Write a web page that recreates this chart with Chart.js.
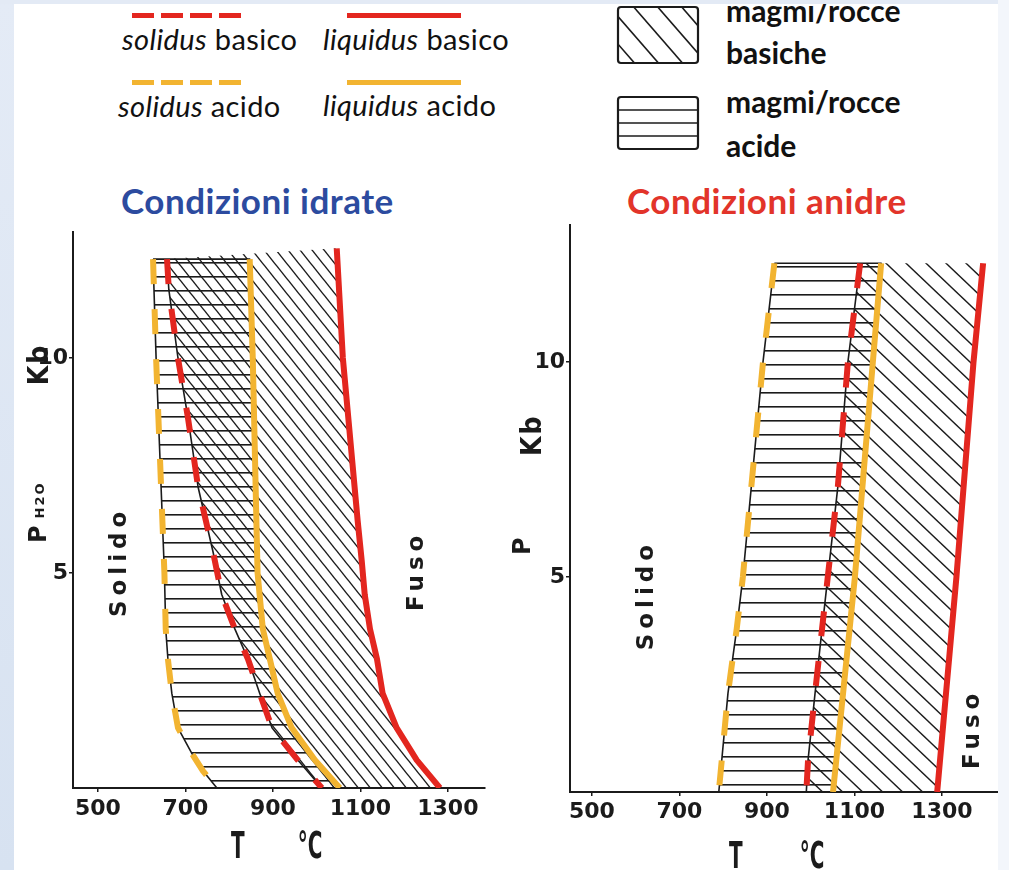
<!DOCTYPE html>
<html>
<head>
<meta charset="utf-8">
<title>Solidus e liquidus - condizioni idrate e anidre</title>
<script src="https://cdn.jsdelivr.net/npm/chart.js@4.4.1/dist/chart.umd.min.js"></script>
<style>
  html, body { margin: 0; width: 1009px; height: 870px; overflow: hidden; }
  body { position: relative; background: #fff; font-family: Lato, 'Open Sans', sans-serif; color: #111; }
  .band { position: absolute; z-index: 5; }
  .abs { position: absolute; white-space: nowrap; line-height: 1; }
  .key { font-size: 29px; letter-spacing: 0.4px; }
  .kind { font-size: 30px; font-weight: 700; }
  .cond { font-size: 35px; font-weight: 700; letter-spacing: 0.5px; }
  .swatch { position: absolute; height: 5px; }
  canvas { position: absolute; }
</style>
</head>
<body>
  <div class="band" style="left:0;top:0;width:14px;height:870px;background:linear-gradient(#e4ebf6,#d7e2f1);"></div>
  <div class="band" style="left:0;top:0;width:1009px;height:4px;background:#e3eaf5;"></div>
  <div class="band" style="left:998px;top:0;width:11px;height:870px;background:#f3f6fb;"></div>

  <!-- line key -->
  <div class="swatch" style="left:132px;top:13px;width:110px;background:repeating-linear-gradient(90deg,#e3261f 0 22px,transparent 22px 29px);"></div>
  <div class="swatch" style="left:347px;top:13px;width:114px;background:#e3261f;"></div>
  <div class="swatch" style="left:132px;top:80px;width:110px;background:repeating-linear-gradient(90deg,#f2b431 0 22px,transparent 22px 29px);"></div>
  <div class="swatch" style="left:347px;top:80px;width:114px;background:#f2b431;"></div>
  <div class="abs key" style="left:122px;top:24px;"><i>solidus</i> basico</div>
  <div class="abs key" style="left:323px;top:24px;"><i>liquidus</i> basico</div>
  <div class="abs key" style="left:118px;top:91px;"><i>solidus</i> acido</div>
  <div class="abs key" style="left:323px;top:90px;"><i>liquidus</i> acido</div>

  <!-- hatch key -->
  <canvas id="k1" width="88" height="62" style="left:616px;top:5px;"></canvas>
  <canvas id="k2" width="88" height="58" style="left:616px;top:95px;"></canvas>
  <div class="abs kind" style="left:726px;top:-5px;">magmi/rocce</div>
  <div class="abs kind" style="left:726px;top:37px;">basiche</div>
  <div class="abs kind" style="left:726px;top:86px;">magmi/rocce</div>
  <div class="abs kind" style="left:726px;top:130px;">acide</div>

  <div class="abs cond" style="left:121px;top:183px;color:#2c4b9f;">Condizioni idrate</div>
  <div class="abs cond" style="left:627px;top:183px;color:#e2342a;">Condizioni anidre</div>

  <canvas id="c1" width="500" height="650" style="left:0;top:220px;"></canvas>
  <canvas id="c2" width="519" height="660" style="left:490px;top:210px;"></canvas>

<script>
const RED = '#e3261f';
const YEL = '#f2b431';
const INK = '#1b1b1b';

// tick values
const T_TICKS = [500, 700, 900, 1100, 1300];
const P_TICKS = [5, 10];

// Condizioni idrate (P in Kb, T in °C)
const hydSolAcP = [12.3, 10, 5, 3.7, 3, 2.2, 1.4, 0.8, 0.4, 0];
const hydSolAcT = [626, 633, 652, 655, 660, 669, 683, 715, 740, 772];
const hydLiqAcP = [12.3, 10, 5, 3.7, 3, 2.2, 1.4, 0.65, 0];
const hydLiqAcT = [847, 854, 865, 877, 893, 911, 943, 996, 1053];
const hydSolBaP = [12.3, 11.6, 10, 8.6, 7, 5.5, 4.5, 3.7, 3, 2.2, 1.4, 0.65, 0];
const hydSolBaT = [658, 662, 683, 706, 729, 763, 783, 813, 843, 870, 898, 957, 1012];
const hydLiqBaP = [12.55, 10, 6.2, 5.3, 4.5, 3.7, 3, 2.2, 1.4, 0.65, 0];
const hydLiqBaT = [1046, 1060, 1094, 1103, 1110, 1122, 1138, 1151, 1183, 1229, 1282];

// Condizioni anidre
const drySolAcP = [12.3, 10, 5, 3.8, 2.3, 0];
const drySolAcT = [917, 891, 845, 831, 811, 790];
const dryLiqAcP = [12.3, 10, 5, 0];
const dryLiqAcT = [1161, 1142, 1101, 1051];
const drySolBaP = [12.3, 10, 7.1, 5, 3.8, 2.3, 0.75, 0];
const drySolBaT = [1113, 1085, 1062, 1039, 1026, 1010, 994, 990];
const dryLiqBaP = [12.3, 10, 5, 0];
const dryLiqBaT = [1394, 1372, 1333, 1289];

function pts(T, P) {
  return T.map((t, i) => ({x: t, y: P[i]}));
}

// closed outline: first curve top->bottom, second curve bottom->top
function band(tA, pA, tB, pB) {
  const out = pts(tA, pA).concat(pts(tB, pB).reverse());
  out.push({...out[0]});
  return out;
}

function diagPattern(ctx, w, h, lw) {
  const c = document.createElement('canvas');
  c.width = w; c.height = h;
  const g = c.getContext('2d');
  g.strokeStyle = INK;
  g.lineWidth = lw;
  for (let k = -1; k <= 1; k++) {
    g.beginPath();
    g.moveTo(k * w - w, -h);
    g.lineTo(k * w + 2 * w, 2 * h);
    g.stroke();
  }
  return ctx.createPattern(c, 'repeat');
}

function rowPattern(ctx, gap, lw) {
  const c = document.createElement('canvas');
  c.width = 8; c.height = gap;
  const g = c.getContext('2d');
  g.fillStyle = INK;
  g.fillRect(0, 0, 8, lw);
  return ctx.createPattern(c, 'repeat');
}

function layers(s, pat) {
  const base = {showLine: true, pointRadius: 0, pointHoverRadius: 0, tension: 0, fill: false,
    borderCapStyle: 'butt', borderJoinStyle: 'round'};
  return [
    {...base, label: 'liquidus basico', data: pts(s.liqBaT, s.liqBaP), borderColor: RED, borderWidth: 6},
    {...base, label: 'solidus basico', data: pts(s.solBaT, s.solBaP), borderColor: RED, borderWidth: 6, borderDash: [25, 25]},
    {...base, label: 'solidus acido', data: pts(s.solAcT, s.solAcP), borderColor: YEL, borderWidth: 6, borderDash: [25, 25]},
    {...base, label: 'liquidus acido', data: pts(s.liqAcT, s.liqAcP), borderColor: YEL, borderWidth: 6},
    {...base, label: 'bordo basico', data: pts(s.solBaT, s.solBaP), borderColor: INK, borderWidth: 1.6},
    {...base, label: 'magmi/rocce acide', data: band(s.solAcT, s.solAcP, s.liqAcT, s.liqAcP),
      borderColor: INK, borderWidth: 1.6, backgroundColor: pat.rows, fill: 'shape'},
    {...base, label: 'magmi/rocce basiche', data: band(s.solBaT, s.solBaP, s.liqBaT, s.liqBaP),
      borderColor: 'rgba(0,0,0,0)', borderWidth: 1, backgroundColor: pat.diag, fill: 'shape'}
  ];
}

function axes(xMin, xMax, yMax, xPad) {
  const tickFont = {family: 'DejaVu Sans', weight: 'bold', size: 22};
  return {
    x: {
      type: 'linear', min: xMin, max: xMax,
      afterBuildTicks: s => { s.ticks = T_TICKS.map(v => ({value: v})); },
      afterFit: s => { s.height = 40; s.paddingLeft = 0; s.paddingRight = 0; },
      grid: {drawOnChartArea: false, color: INK, lineWidth: 1.5, tickLength: 4},
      border: {color: INK, width: 2},
      ticks: {color: INK, font: tickFont, padding: xPad, maxRotation: 0, autoSkip: false, callback: v => String(v)}
    },
    y: {
      type: 'linear', min: 0, max: yMax,
      afterBuildTicks: s => { s.ticks = P_TICKS.map(v => ({value: v})); },
      afterFit: s => { s.width = 60; s.paddingTop = 0; s.paddingBottom = 0; },
      grid: {drawOnChartArea: false, color: INK, lineWidth: 1.5, tickLength: 4},
      border: {color: INK, width: 2},
      ticks: {color: INK, font: tickFont, padding: 1, callback: v => String(v)}
    }
  };
}

// axis titles and field names, placed with the chart scales
const notes = {
  id: 'notes',
  afterDraw(chart, args, opts) {
    const {ctx, chartArea: a, scales: {x, y}} = chart;
    for (const n of opts.items) {
      const px = n.T !== undefined ? x.getPixelForValue(n.T) : a.left + n.dx;
      const py = n.P !== undefined ? y.getPixelForValue(n.P) : a.bottom + n.dy;
      ctx.save();
      ctx.fillStyle = INK;
      ctx.font = n.font;
      ctx.letterSpacing = (n.gap || 0) + 'px';
      ctx.textAlign = 'center';
      ctx.textBaseline = n.base || 'middle';
      ctx.translate(px, py);
      if (n.up) ctx.rotate(-Math.PI / 2);
      if (n.sx) ctx.scale(n.sx, 1);
      ctx.fillText(n.text, 0, 0);
      ctx.restore();
    }
  }
};

const FIELD = 'bold 23px "DejaVu Sans"';
const NUM = 'bold 24px "DejaVu Sans"';
const TALL = 'bold 28px "DejaVu Sans Condensed", "DejaVu Sans"';
const UNIT = 'bold 37px "DejaVu Sans Condensed", "DejaVu Sans"';

function build(id, s, range, pad, xPad, items, diagW, diagH) {
  const ctx = document.getElementById(id).getContext('2d');
  const pat = {rows: rowPattern(ctx, 14, 1.6), diag: diagPattern(ctx, diagW, diagH, 1.4)};
  return new Chart(ctx, {
    type: 'scatter',
    data: {datasets: layers(s, pat)},
    options: {
      responsive: false,
      animation: false,
      events: [],
      layout: {padding: pad},
      scales: axes(range[0], range[1], range[2], xPad),
      plugins: {legend: {display: false}, tooltip: {enabled: false}, notes: {items}}
    },
    plugins: [notes]
  });
}

build('c1',
  {solAcT: hydSolAcT, solAcP: hydSolAcP, liqAcT: hydLiqAcT, liqAcP: hydLiqAcP,
   solBaT: hydSolBaT, solBaP: hydSolBaP, liqBaT: hydLiqBaT, liqBaP: hydLiqBaP},
  [443, 1385, 12.93], {left: 13, right: 15, top: 12, bottom: 42}, 4,
  [
    {text: 'Solido', T: 550, P: 5.26, up: true, font: FIELD, gap: 5},
    {text: 'Fuso', T: 1229, P: 5.05, up: true, font: FIELD, gap: 5},
    {text: 'P', dx: -27, P: 5.9, up: true, base: 'alphabetic', font: NUM},
    {text: 'H2O', dx: -29, P: 6.7, up: true, base: 'alphabetic', font: 'bold 13px "DejaVu Sans"', gap: 2},
    {text: 'Kb', dx: -25, P: 9.85, up: true, base: 'alphabetic', font: TALL, gap: 2},
    {text: 'T', T: 820, dy: 70, base: 'alphabetic', font: UNIT, sx: 0.6},
    {text: '°C', T: 985, dy: 70, base: 'alphabetic', font: UNIT, sx: 0.6}
  ], 12, 15);

build('c2',
  {solAcT: drySolAcT, solAcP: drySolAcP, liqAcT: dryLiqAcT, liqAcP: dryLiqAcP,
   solBaT: drySolBaT, solBaP: drySolBaP, liqBaT: dryLiqBaT, liqBaP: dryLiqBaP},
  [450, 1444, 13.19], {left: 20, right: 4, top: 15, bottom: 38}, 3,
  [
    {text: 'Solido', T: 626, P: 4.58, up: true, font: FIELD, gap: 5},
    {text: 'Fuso', T: 1371, P: 1.47, up: true, font: FIELD, gap: 5},
    {text: 'P', dx: -40, P: 5.72, up: true, base: 'alphabetic', font: NUM},
    {text: 'Kb', dx: -29, P: 8.3, up: true, base: 'alphabetic', font: TALL, gap: 2},
    {text: 'T', T: 829, dy: 76, base: 'alphabetic', font: UNIT, sx: 0.6},
    {text: '°C', T: 1003, dy: 76, base: 'alphabetic', font: UNIT, sx: 0.6}
  ], 20, 19);

// hatch swatches of the key
function keyBox(id, kind) {
  const c = document.getElementById(id);
  const g = c.getContext('2d');
  const w = c.width, h = c.height;
  g.save();
  g.beginPath();
  g.roundRect(2, 2, w - 8, h - 6, 3);
  g.clip();
  g.strokeStyle = INK;
  g.lineWidth = 1.6;
  if (kind === 'diag') {
    for (let x0 = -80; x0 < w + 10; x0 += 24) {
      g.beginPath();
      g.moveTo(x0, 0);
      g.lineTo(x0 + h / 1.15, h);
      g.stroke();
    }
  } else {
    for (let i = 1; i < 4; i++) {
      const yy = 2 + (h - 6) * i / 4;
      g.beginPath();
      g.moveTo(0, yy);
      g.lineTo(w, yy);
      g.stroke();
    }
  }
  g.restore();
  g.lineWidth = 2.2;
  g.strokeStyle = INK;
  g.beginPath();
  g.roundRect(2, 2, w - 8, h - 6, 3);
  g.stroke();
}
keyBox('k1', 'diag');
keyBox('k2', 'rows');
</script>
</body>
</html>
